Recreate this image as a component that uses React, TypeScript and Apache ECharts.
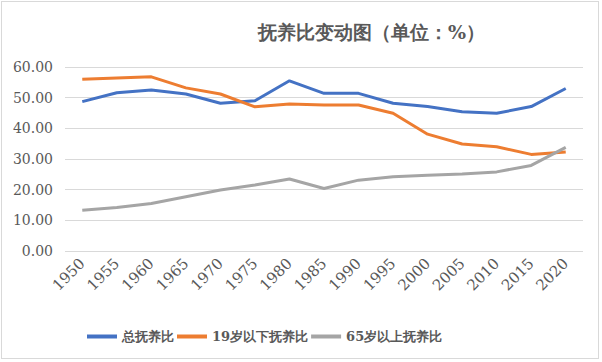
import React, { useEffect, useRef } from "react";
import * as echarts from "echarts";

const years = ["1950","1955","1960","1965","1970","1975","1980","1985","1990","1995","2000","2005","2010","2015","2020"];
const totalRatio = [48.7, 51.6, 52.5, 51.2, 48.2, 49.0, 55.5, 51.4, 51.4, 48.2, 47.1, 45.4, 44.9, 47.1, 53.0];
const youngRatio = [56.0, 56.4, 56.8, 53.2, 51.2, 47.0, 47.9, 47.6, 47.6, 44.9, 38.1, 34.9, 34.0, 31.5, 32.3];
const oldRatio = [13.3, 14.2, 15.5, 17.7, 19.9, 21.5, 23.5, 20.4, 23.1, 24.2, 24.7, 25.1, 25.8, 27.9, 33.8];
const seriesNames = ["总抚养比", "19岁以下抚养比", "65岁以上抚养比"];
const colors = ["#4472C4", "#ED7D31", "#A5A5A5"];

const FONT = "DejaVu Serif";

export default function App() {
  const ref = useRef<HTMLDivElement>(null);
  useEffect(() => {
    document.body.style.margin = "0";
    const chart = echarts.init(ref.current!, null, { renderer: "svg" });
    const data = [totalRatio, youngRatio, oldRatio];
    chart.setOption({
      animation: false,
      backgroundColor: "#fff",
      textStyle: { fontFamily: FONT },
      title: {
        text: "抚养比变动图（单位：%）",
        left: 253,
        top: 17,
        textStyle: { fontSize: 19, fontWeight: "bold", color: "#595959", fontFamily: FONT },
      },
      grid: { left: 65, right: 19, top: 67, bottom: 111 },
      xAxis: {
        type: "category",
        data: years,
        boundaryGap: true,
        axisLine: { show: false },
        axisTick: { show: false },
        axisLabel: { rotate: 45, color: "#595959", fontSize: 15, fontFamily: FONT, margin: 10 },
      },
      yAxis: {
        type: "value",
        min: 0,
        max: 60,
        interval: 10,
        axisLine: { show: false },
        axisTick: { show: false },
        splitLine: { lineStyle: { color: "#D9D9D9", width: 1 } },
        axisLabel: {
          color: "#595959",
          fontSize: 14,
          fontFamily: FONT,
          margin: 12,
          formatter: (v: number) => v.toFixed(2),
        },
      },
      legend: {
        bottom: 14,
        left: 82,
        icon: "rect",
        itemWidth: 30,
        itemHeight: 4,
        itemGap: 3,
        textStyle: { color: "#595959", fontSize: 13, fontWeight: "bold", fontFamily: FONT },
        data: seriesNames,
      },
      series: seriesNames.map((name, i) => ({
        name,
        type: "line",
        data: data[i],
        symbol: "none",
        color: colors[i],
        lineStyle: { width: 3, color: colors[i] },
      })),
    });
    return () => chart.dispose();
  }, []);
  return (
    <div style={{ width: 602, height: 362, position: "relative" }}>
      <div ref={ref} style={{ width: 602, height: 362 }} />
      <div style={{ position: "absolute", left: 1, top: 1, width: 596, height: 356, border: "1px solid #D9D9D9", pointerEvents: "none" }} />
    </div>
  );
}
